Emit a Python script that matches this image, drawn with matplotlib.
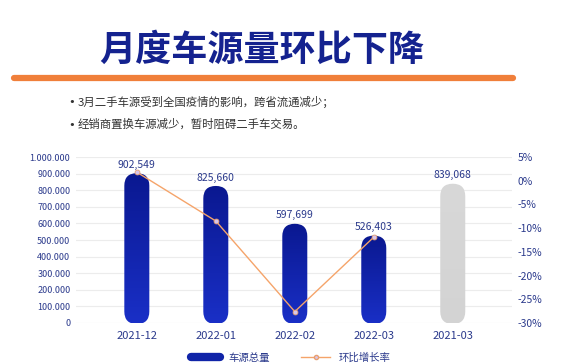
import matplotlib
matplotlib.use('Agg')
import matplotlib.pyplot as plt
from matplotlib.lines import Line2D
from matplotlib.patches import FancyBboxPatch
from matplotlib.transforms import IdentityTransform
from matplotlib.colors import LinearSegmentedColormap
import numpy as np

plt.rcParams['font.family'] = ['Noto Sans CJK SC', 'DejaVu Sans']
plt.rcParams['axes.unicode_minus'] = False

# ========== 数据 ==========
months = ['2021-12', '2022-01', '2022-02', '2022-03', '2021-03']
volume = [902549, 825660, 597699, 526403, 839068]
growth = [1.8, -8.5, -27.6, -11.9]   # 环比增长率 (%)，2021-03 无
is_current = [True, True, True, True, False]
bullets = ['3月二手车源受到全国疫情的影响，跨省流通减少；',
           '经销商置换车源减少，暂时阻碍二手车交易。']

NAVY = '#2b3a8c'
ORANGE = '#f5a46a'
blue_cmap = LinearSegmentedColormap.from_list('b', ['#1a30c8', '#0a1890'])
gray_cmap = LinearSegmentedColormap.from_list('g', ['#d3d3d3', '#d8d8d8'])

fig = plt.figure(figsize=(5.7, 3.63), dpi=100)
fig.patch.set_facecolor('white')

# ========== 标题 ==========
fig.text(0.46, 0.862, '月度车源量环比下降', ha='center', va='center',
         fontsize=26, fontweight='black', color='#14228f')
fig.add_artist(Line2D([0.025, 0.9], [0.785, 0.785], color='#f07f3a', lw=4.5,
                      solid_capstyle='round', transform=fig.transFigure))
for i, b in enumerate(bullets):
    y = 0.72 - i * 0.063
    fig.text(0.12, y, '•', ha='left', va='center', fontsize=8.2,
             color='#333333', family='DejaVu Sans')
    fig.text(0.137, y, b, ha='left', va='center', fontsize=8.2, color='#333333')

# ========== 主图 ==========
ax = fig.add_axes([76 / 570, 1 - 323 / 363, (512 - 76) / 570, (323 - 157) / 363])
ax2 = ax.twinx()
x = np.arange(len(months))
ax.set_xlim(-0.77, 4.75)
ax.set_ylim(0, 1000000)
ax2.set_ylim(-30, 5)

# 圆角柱子：渐变填充 + 胶囊形裁剪
bar_px = 25
grad = np.linspace(0, 1, 256).reshape(-1, 1)
for xi, v, cur in zip(x, volume, is_current):
    (px0, py0) = ax.transData.transform((xi, 0))
    (_, py1) = ax.transData.transform((xi, v))
    clip = FancyBboxPatch((px0 - bar_px / 2, py0 - 1), bar_px, py1 - py0 + 1,
                          boxstyle=f'round,pad=0,rounding_size={bar_px / 2}',
                          transform=IdentityTransform(), facecolor='none',
                          edgecolor='none')
    fig.add_artist(clip)
    im = ax.imshow(grad, cmap=blue_cmap if cur else gray_cmap, aspect='auto',
                   origin='lower', extent=(xi - 0.3, xi + 0.3, -20000, v),
                   zorder=3)
    im.set_clip_path(clip)
    ax.text(xi, v + 20000, f'{v:,}', ha='center', va='bottom',
            fontsize=7.5, color=NAVY, fontweight='medium', zorder=5)
ax.set_xlim(-0.77, 4.75)
ax.set_ylim(0, 1000000)

ax2.plot(x[:len(growth)], growth, color=ORANGE, lw=1, marker='o', markersize=3.5,
         markerfacecolor='#d9c6ea', markeredgecolor='#e8a070', markeredgewidth=0.6,
         zorder=4)

ax.set_yticks(np.arange(0, 1000001, 100000))
ax.set_yticklabels(['0' if v == 0 else f'{v:,}'.replace(',', '.')
                    for v in range(0, 1000001, 100000)])
ax2.set_yticks(np.arange(-30, 6, 5))
ax2.set_yticklabels([f'{v}%' for v in range(-30, 6, 5)])
ax.set_xticks(x)
ax.set_xticklabels(months)

ax.grid(axis='y', color='#ececec', lw=0.8)
ax.set_axisbelow(True)
for a in (ax, ax2):
    for s in a.spines.values():
        s.set_visible(False)
    a.tick_params(length=0, colors=NAVY)
    for t in a.get_xticklabels() + a.get_yticklabels():
        t.set_fontweight('medium')
ax.tick_params(axis='y', labelsize=6.5, pad=4)
ax.tick_params(axis='x', labelsize=8, pad=6)
ax2.tick_params(axis='y', labelsize=7.5, pad=4)
ax2.set_zorder(ax.get_zorder() + 1)
ax2.patch.set_visible(False)

# ========== 图例 ==========
handles = [Line2D([0], [0], color='#1024a8', lw=6, solid_capstyle='round'),
           Line2D([0], [0], color=ORANGE, lw=1, marker='o', markersize=3,
                  markerfacecolor='#d9c6ea', markeredgecolor='#e8a070')]
fig.legend(handles, ['车源总量', '环比增长率'], loc='center', ncol=2,
           bbox_to_anchor=(0.51, 0.015), frameon=False, fontsize=7.5,
           labelcolor=NAVY, handlelength=2.8, columnspacing=3)

fig.savefig('out.png', dpi=100)
